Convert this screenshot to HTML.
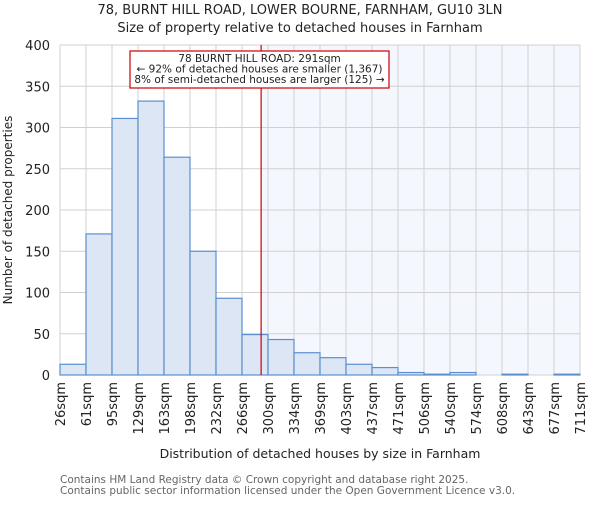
<!DOCTYPE html>
<html><head><meta charset="utf-8"><style>
body{margin:0;background:#fff}
svg text{font-family:"DejaVu Sans","Liberation Sans",sans-serif}
</style></head><body>
<svg id="chart" width="600" height="500" xmlns="http://www.w3.org/2000/svg">
<text x="300" y="14" text-anchor="middle" font-size="13" fill="#222">78, BURNT HILL ROAD, LOWER BOURNE, FARNHAM, GU10 3LN</text>
<text x="300" y="32" text-anchor="middle" font-size="13" fill="#222">Size of property relative to detached houses in Farnham</text>
<g id="plot"></g>
<text transform="translate(12,210) rotate(-90)" text-anchor="middle" font-size="12" fill="#222">Number of detached properties</text>
<text x="320" y="458" text-anchor="middle" font-size="12.5" fill="#222">Distribution of detached houses by size in Farnham</text>
<text x="60" y="483" font-size="10.5" fill="#666">Contains HM Land Registry data © Crown copyright and database right 2025.</text>
<text x="60" y="494" font-size="10.5" fill="#666">Contains public sector information licensed under the Open Government Licence v3.0.</text>
</svg>
<script>
const binLabels=["26sqm","61sqm","95sqm","129sqm","163sqm","198sqm","232sqm","266sqm","300sqm","334sqm","369sqm","403sqm","437sqm","471sqm","506sqm","540sqm","574sqm","608sqm","643sqm","677sqm","711sqm"];
const counts=[13,171,311,332,264,150,93,49,43,27,21,13,9,3,1,3,0,1,0,1];
const yTicks=[0,50,100,150,200,250,300,350,400];
const markerValue=291;
const binEdges=[26,61,95,129,163,198,232,266,300,334,369,403,437,471,506,540,574,608,643,677,711];
const X0=60,X1=580,Y0=375,Y1=45,YMAX=400;
const NS="http://www.w3.org/2000/svg";
const g=document.getElementById('plot');
const xb=i=>X0+(X1-X0)*i/counts.length;
const y=v=>Y0-(Y0-Y1)*v/YMAX;
function xv(v){for(let i=0;i<binEdges.length-1;i++){if(v<=binEdges[i+1])return xb(i)+(v-binEdges[i])/(binEdges[i+1]-binEdges[i])*(xb(i+1)-xb(i));}return X1;}
function mk(t,a){const e=document.createElementNS(NS,t);for(const k in a)e.setAttribute(k,a[k]);g.appendChild(e);return e;}
const mx=xv(markerValue);
let e=mk('rect',{x:mx,y:Y1,width:X1-mx,height:Y0-Y1,fill:'#f4f7fe'});


yTicks.forEach(t=>{let l=mk('line',{x1:X0,x2:X1,y1:y(t),y2:y(t),stroke:'#d0d0d0','stroke-width':1});


let tx=mk('text',{x:X0-10,y:y(t)+5,'text-anchor':'end','font-size':13,fill:'#222'});tx.textContent=t;

});
binLabels.forEach((lb,i)=>{let l=mk('line',{x1:xb(i),x2:xb(i),y1:Y1,y2:Y0,stroke:'#d0d0d0','stroke-width':1});


let tx=mk('text',{transform:`translate(${xb(i)+5},382) rotate(-90)`,'text-anchor':'end','font-size':13,fill:'#222'});tx.textContent=lb;

});
counts.forEach((c,i)=>{if(c<=0)return;let r=mk('rect',{x:xb(i),y:y(c),width:xb(i+1)-xb(i),height:Y0-y(c),fill:'#dce6f4',stroke:'#5b8fd0','stroke-width':1.2});

});
let ln=mk('line',{x1:mx,x2:mx,y1:Y1,y2:Y0,stroke:'#cc0000','stroke-width':1.2});


let bx=mk('rect',{x:130,y:51,width:259,height:37,fill:'#fff',stroke:'#cc0000','stroke-width':1.2});


["78 BURNT HILL ROAD: 291sqm","← 92% of detached houses are smaller (1,367)","8% of semi-detached houses are larger (125) →"].forEach((s,i)=>{let t=mk('text',{x:259.5,y:62+i*10.5,'text-anchor':'middle','font-size':10.5,fill:'#222'});t.textContent=s;

});
</script>
</body></html>
